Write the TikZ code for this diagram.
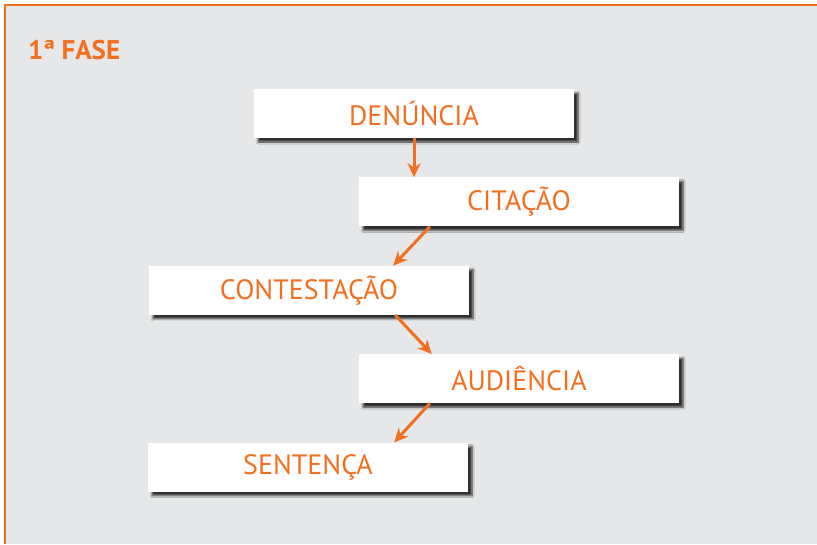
\documentclass[tikz,border=0pt]{standalone}
\usepackage{fontspec}
\setmainfont{PT Sans}
\usepackage{xcolor}
\usepackage{tikz}
\usetikzlibrary{arrows.meta,positioning,shadows.blur}

\definecolor{faseorange}{HTML}{F26F21}
\definecolor{fasegray}{HTML}{E6E7E8}

\begin{document}
\begin{tikzpicture}[
  x=1pt, y=1pt,
  node distance=39pt,
  etapa/.style={fill=white, minimum width=320pt, minimum height=49pt,
    inner sep=0pt, text=faseorange, font=\fontsize{28}{30}\selectfont,
    blur shadow={shadow xshift=4pt, shadow yshift=-4pt,
      shadow blur steps=6, shadow opacity=80}},
  titulo/.style={anchor=west, inner sep=0pt, text=faseorange,
    font=\fontsize{27}{30}\selectfont\bfseries},
  arr/.style={-{Stealth[length=14pt, width=13pt]}, line width=3pt,
    draw=faseorange}
]
  \useasboundingbox (0,0) rectangle (817,-544);
  % painel de fundo
  \fill[fasegray] (5,-5) rectangle (817,-544);
  \draw[faseorange, line width=1.5pt] (5,-544) -- (5,-5) -- (817,-5);

  \node[titulo] (fase) at (28,-50) {1ª FASE};

  \node[etapa] (denuncia) at (414,-113.5) {DENÚNCIA};
  \node[etapa, below=of denuncia, xshift=105pt] (citacao) {CITAÇÃO};
  \node[etapa, below=of citacao, xshift=-210pt] (contestacao) {CONTESTAÇÃO};
  \node[etapa, below=of contestacao, xshift=210pt] (audiencia) {AUDIÊNCIA};
  \node[etapa, below=of audiencia, xshift=-211pt] (sentenca) {SENTENÇA};

  \draw[arr] (denuncia.south) -- (denuncia.south |- citacao.north);
  \draw[arr] ([xshift=71pt]citacao.south west) -- ([xshift=-76pt]contestacao.north east);
  \draw[arr] ([xshift=-74pt]contestacao.south east) -- ([xshift=73pt]audiencia.north west);
  \draw[arr] ([xshift=71pt]audiencia.south west) -- ([xshift=-74pt]sentenca.north east);
\end{tikzpicture}
\end{document}
